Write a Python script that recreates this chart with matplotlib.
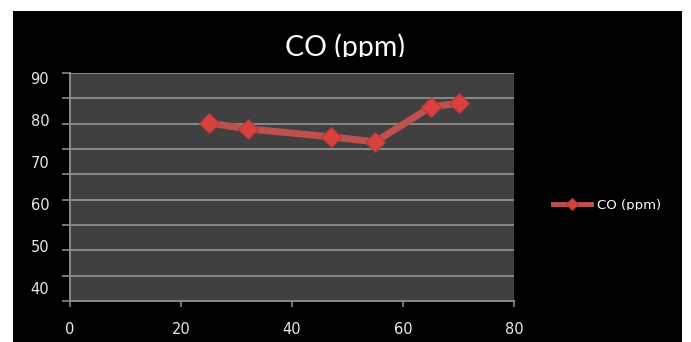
import numpy as np
import matplotlib
matplotlib.use("Agg")
import matplotlib.pyplot as plt
from matplotlib.patches import Rectangle
from matplotlib.transforms import Bbox, TransformedBbox

# ---- data ----
x_values = [25, 32, 47, 55, 65, 70]
co_ppm = [79.3, 77.9, 76.0, 74.8, 83.1, 84.0]
series_name = "CO (ppm)"
title_text = "CO (ppm)"
x_ticks = [0, 20, 40, 60, 80]
y_ticks = [40, 50, 60, 70, 80, 90]

W, H = 691, 342
fig = plt.figure(figsize=(W / 100, H / 100), dpi=100)
fig.patch.set_facecolor("white")

# black chart area
fig.patches.append(Rectangle((13 / W, 0), (682 - 13) / W, (H - 11) / H,
                             transform=fig.transFigure, facecolor="black",
                             edgecolor="none", zorder=-5))

left, right, top, bottom = 70, 514, 73, 301
ax = fig.add_axes([left / W, (H - bottom) / H, (right - left) / W, (bottom - top) / H])
ax.set_zorder(1)
ax.set_facecolor("#404040")

ymin, ymax = 36.9, 91.2
ax.set_xlim(0, 80)
ax.set_ylim(ymin, ymax)

grid_color = "#8a8a8a"
# gridlines (minor ticks on y)
ax.set_yticks(np.linspace(ymin, ymax, 10), minor=True)
ax.set_yticks(y_ticks)
ax.set_yticklabels([str(v) for v in y_ticks])
ax.grid(axis="y", which="minor", color=grid_color, linewidth=1.4)
ax.tick_params(axis="y", which="minor", length=6, width=1.2, color=grid_color, direction="out")
ax.tick_params(axis="y", which="major", length=0, pad=15, labelsize=10.5, labelcolor="#e8e8e8")

ax.set_xticks(x_ticks)
ax.set_xticklabels([str(v) for v in x_ticks])
ax.tick_params(axis="x", which="major", length=4, width=1.2, color=grid_color,
               pad=11, labelsize=10.5, labelcolor="#e8e8e8")

for s in ["top", "right"]:
    ax.spines[s].set_visible(False)
for s in ["left", "bottom"]:
    ax.spines[s].set_color(grid_color)
    ax.spines[s].set_linewidth(1.4)

line, = ax.plot(x_values, co_ppm, color="#C0504D", linewidth=5,
                marker="D", markersize=10, markerfacecolor="#D9413F",
                markeredgecolor="#B03A37", markeredgewidth=0.8,
                label=series_name, zorder=3, clip_on=False)

# title (clipped at baseline like the reference)
ttl = fig.text(345 / W, (H - 56) / H, title_text, ha="center", va="baseline",
               color="white", fontsize=20.5, family="Lato")
ttl.set_clip_box(TransformedBbox(Bbox([[0, (H - 57) / H], [1, 1]]), fig.transFigure))
ttl.set_clip_on(True)

leg = ax.legend(handles=[line], loc="center left",
                bbox_to_anchor=(553 / W, (H - 205) / H), bbox_transform=fig.transFigure,
                frameon=False, handlelength=2.9, handletextpad=0.4,
                borderaxespad=0, borderpad=0, prop={"size": 9.5, "family": "DejaVu Sans"},
                markerscale=0.6)
for t in leg.get_texts():
    t.set_color("white")
    t.set_clip_box(TransformedBbox(Bbox([[0, (H - 210) / H], [1, 1]]), fig.transFigure))
    t.set_clip_on(True)
for h in leg.legend_handles:
    h.set_linewidth(3.5)

fig.savefig("out.png", dpi=100, facecolor=fig.get_facecolor())
